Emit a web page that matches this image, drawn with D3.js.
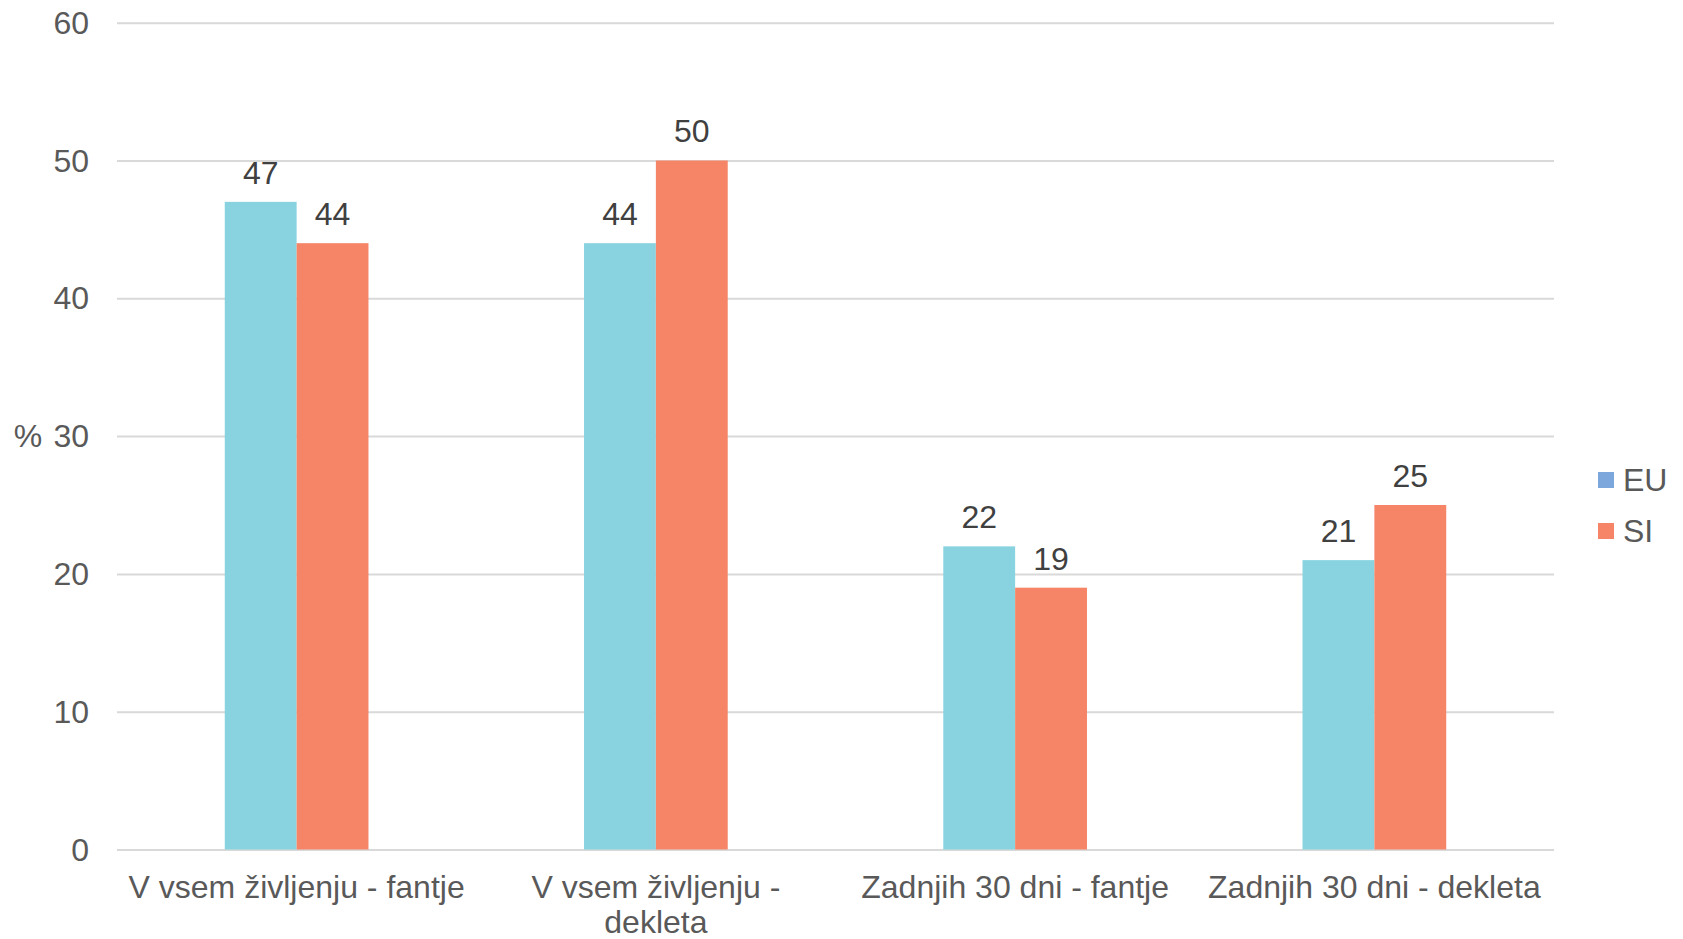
<!DOCTYPE html>
<html>
<head>
<meta charset="utf-8">
<script src="https://cdn.jsdelivr.net/npm/d3@7"></script>
<style>
  body { margin: 0; background: #fff; }
  svg { display: block; font-family: "Liberation Sans", Arial, sans-serif; }
  .grid line { stroke: #d9d9d9; stroke-width: 2; }
  .grid .domain { display: none; }
</style>
</head>
<body>
<div id="chart"></div>
<script>
// Chart data
const categories = [
  ["V vsem življenju - fantje"],
  ["V vsem življenju -", "dekleta"],
  ["Zadnjih 30 dni - fantje"],
  ["Zadnjih 30 dni - dekleta"],
];
const seriesNames = ["EU", "SI"];
const euValues = [47, 44, 22, 21];
const siValues = [44, 50, 19, 25];
const yTicks = [0, 10, 20, 30, 40, 50, 60];

const barColors = { EU: "#89d3e0", SI: "#f58566" };
// Legend swatch for EU differs from the bars in the original
const legendColors = { EU: "#7ba7dc", SI: "#f58566" };

const FONT = 32;
const width = 1683;
const height = 939;
const pad = { left: 117, right: 129, top: 22.7, bottom: 89.5 };
const innerWidth = width - pad.left - pad.right;
const innerHeight = height - pad.top - pad.bottom;

const rows = categories.map((c, i) => ({
  key: c.join(" "),
  lines: c,
  EU: euValues[i],
  SI: siValues[i],
}));

const svg = d3
  .select("#chart")
  .append("svg")
  .attr("width", width)
  .attr("height", height);

const x0 = d3
  .scaleBand()
  .domain(rows.map((d) => d.key))
  .range([0, innerWidth])
  .paddingInner(0.6)
  .paddingOuter(0.3);

const x1 = d3
  .scaleBand()
  .domain(seriesNames)
  .range([0, x0.bandwidth()]);

const y = d3.scaleLinear().domain([0, 60]).range([innerHeight, 0]);

const g = svg
  .append("g")
  .attr("transform", `translate(${pad.left},${pad.top})`);

// Grid lines
g.append("g")
  .attr("class", "grid")
  .call(d3.axisLeft(y).tickValues(yTicks).tickSize(-innerWidth).tickFormat(""));

// Y tick labels
g.append("g")
  .selectAll("text")
  .data(yTicks)
  .join("text")
  .attr("x", -28)
  .attr("y", (d) => y(d))
  .attr("dy", "0.35em")
  .attr("text-anchor", "end")
  .attr("fill", "#595959")
  .attr("font-size", FONT)
  .text((d) => d);

// Y axis title
svg
  .append("text")
  .attr("x", 28)
  .attr("y", pad.top + y(30))
  .attr("dy", "0.35em")
  .attr("text-anchor", "middle")
  .attr("fill", "#595959")
  .attr("font-size", FONT)
  .text("%");

// Bars
const groups = g
  .append("g")
  .selectAll("g")
  .data(rows)
  .join("g")
  .attr("transform", (d) => `translate(${x0(d.key)},0)`);

const cells = groups
  .selectAll("g")
  .data((d) => seriesNames.map((s) => ({ s, v: d[s] })))
  .join("g");

cells
  .append("rect")
  .attr("x", (d) => x1(d.s))
  .attr("y", (d) => y(d.v))
  .attr("width", x1.bandwidth())
  .attr("height", (d) => y(0) - y(d.v))
  .attr("fill", (d) => barColors[d.s]);

cells
  .append("text")
  .attr("x", (d) => x1(d.s) + x1.bandwidth() / 2)
  .attr("y", (d) => y(d.v) - 18)
  .attr("text-anchor", "middle")
  .attr("fill", "#404040")
  .attr("font-size", FONT)
  .text((d) => d.v);

// X category labels
const xl = g
  .append("g")
  .selectAll("text")
  .data(rows)
  .join("text")
  .attr("x", (d) => x0(d.key) + x0.bandwidth() / 2)
  .attr("y", innerHeight + 49)
  .attr("text-anchor", "middle")
  .attr("fill", "#595959")
  .attr("font-size", FONT);

xl.selectAll("tspan")
  .data((d) => d.lines)
  .join("tspan")
  .attr("x", function () {
    return d3.select(this.parentNode).attr("x");
  })
  .attr("dy", (d, i) => (i === 0 ? 0 : 35))
  .text((d) => d);

// Legend
const legend = svg
  .append("g")
  .attr("transform", "translate(1598,472)")
  .selectAll("g")
  .data(seriesNames)
  .join("g")
  .attr("transform", (d, i) => `translate(0,${i * 51})`);

legend
  .append("rect")
  .attr("width", 16)
  .attr("height", 16)
  .attr("fill", (d) => legendColors[d]);

legend
  .append("text")
  .attr("x", 25)
  .attr("y", 8)
  .attr("dy", "0.35em")
  .attr("fill", "#595959")
  .attr("font-size", FONT)
  .text((d) => d);
</script>
</body>
</html>
